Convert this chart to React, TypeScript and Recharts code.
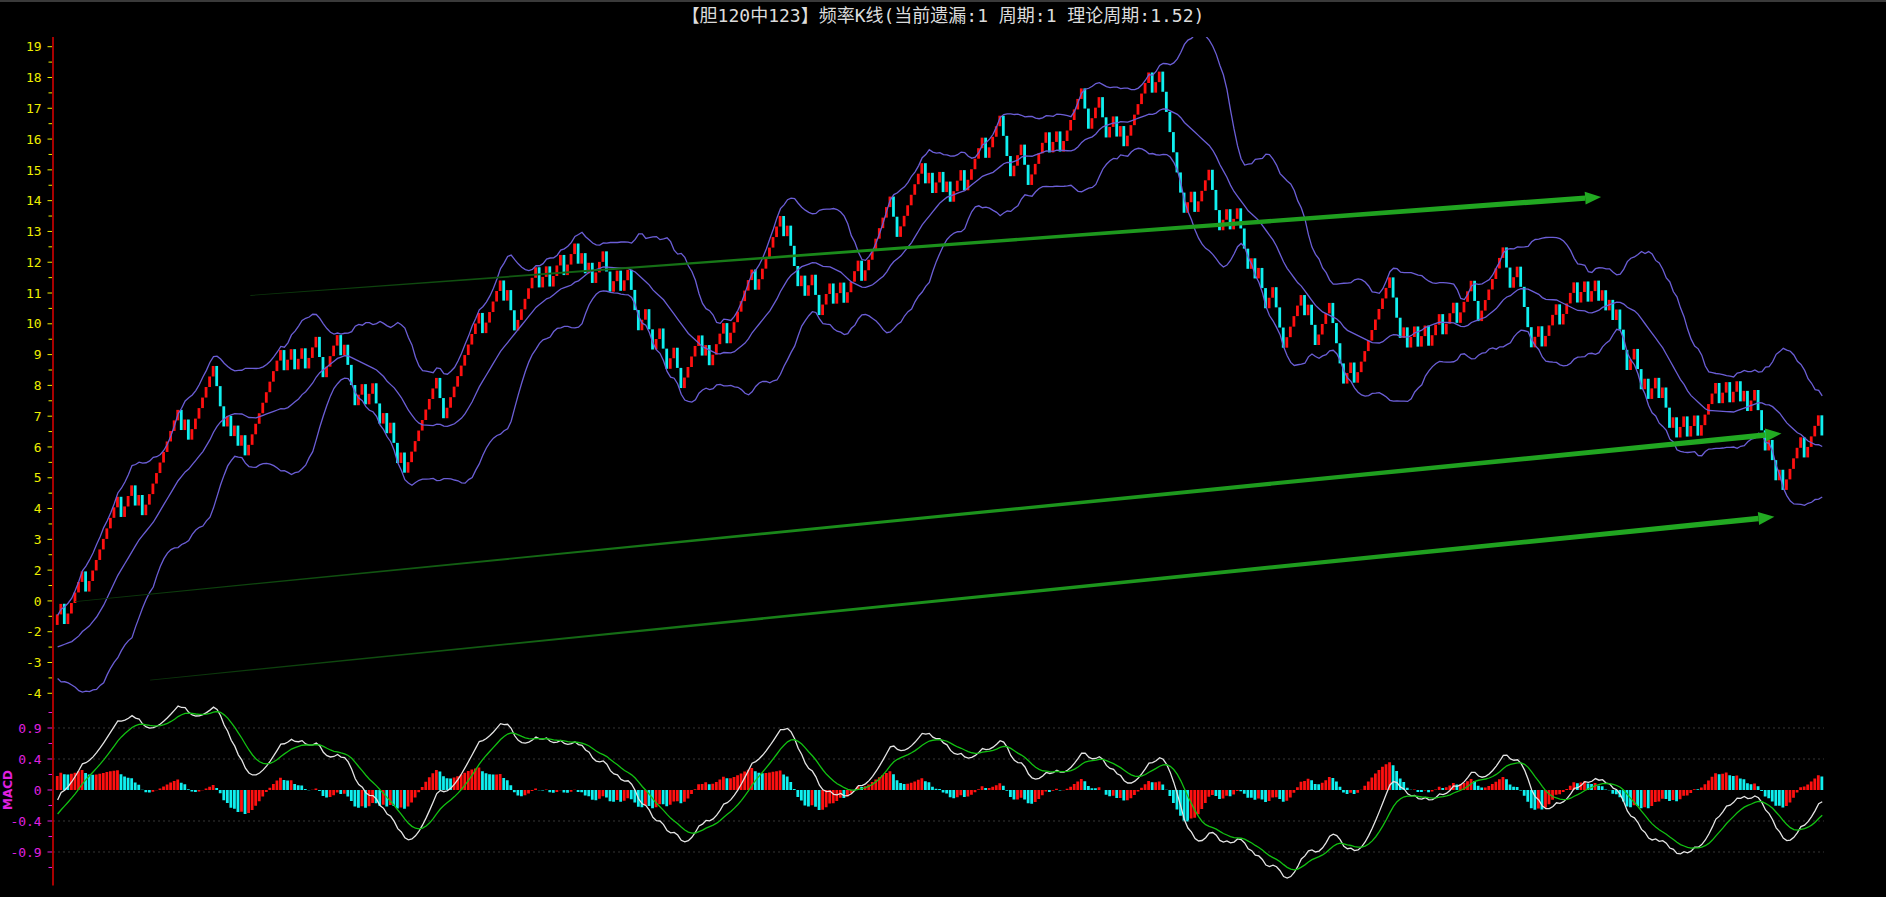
import React from 'react';
import { ComposedChart, Bar, Line, XAxis, YAxis, Cell, ReferenceLine } from 'recharts';

const WIDTH = 1886;
const HEIGHT = 897;
const MAIN_H = 700;
const MACD_H = HEIGHT - MAIN_H;
const AXIS_W = 53;
const RIGHT_GAP = 62;

const AXIS_RED = '#e00000';
const UP_RED = '#ff1010';
const DOWN_CYAN = '#10f0f0';
const BAND = '#6b5ed6';
const YELLOW = '#eeee00';
const MAGENTA = '#e020e0';
const ARROW_GREEN = '#22aa22';

const title = '【胆120中123】频率K线(当前遗漏:1 周期:1 理论周期:1.52)';

// one letter per draw, left to right: R = 中 (red candle, steps up), C = 遗漏 (cyan candle, steps down)
const drawsA = ['RRCRRRRRC', 'RRRRRRRRR', 'CRRRCRCR', 'RRRRRRRRR', 'CRC', 'RRRRRRR', 'CCCRCRCRCR', 'RRRRRRRRR', 'CRRCRRCRRRCCRRRRCRC'];
const drawsB = ['CCRRCRRCCRCRCCRCR', 'RRRRRRRR', 'CC', 'RRRRRRRRRR', 'C', 'RRRRR', 'CRCC', 'RRRRRR', 'CRRCRRRCRRRCRCRCRRRCCRRCRRCCCRRC'];
const drawsC = ['CRRCCRRCC', 'RRRRR', 'CRC', 'RRRR', 'C', 'RRRRRRR', 'C', 'RRRRRRR', 'CRCCCRCRRCC', 'RRR', 'C', 'RR', 'C', 'RRRR', 'C', 'RRRRRRRR', 'CC', 'RRRRRRR', 'CRCRR'];
const drawsD = ['CRCRRRC', 'RRRRR', 'C', 'RRRR', 'CCC', 'RRR', 'CC', 'RRRRR', 'C', 'RR', 'C', 'RRRRRR', 'CC', 'RRR', 'CC', 'RR', 'C', 'R', 'C', 'RRRRRRR', 'C', 'RR', 'CCCCCCC', 'RR', 'C', 'RRRR', 'CCC', 'RR', 'C', 'RR', 'CCC'];
const drawsE = ['RCRCCRRCCC', 'RRRRR', 'CRCC', 'RRRR', 'CCCC', 'RRCR', 'RRRRRRRRR', 'CCC', 'RC', 'RRC', 'RRC', 'RRR', 'C', 'RRR', 'C', 'RRRR', 'CC', 'RRRRRRR', 'CC', 'RR', 'CCCC', 'RR', 'C'];
const drawsF = ['RRRR', 'C', 'RRRR', 'C', 'RR', 'C', 'RR', 'C', 'R', 'C', 'R', 'C', 'R', 'CCC', 'RR', 'CC', 'R', 'C', 'RR', 'C', 'R', 'CC', 'RCRRCRRCRRRRRCRRCRRCR', 'CRRCCCRCCRC', 'RRRRRCRRRRC'];

// draws before the first visible candle: not drawn, only used so BOLL / MACD start where the picture starts (estimated)
const warmupDraws = ['RRCRRCRRCRRCRRCRRC', 'RCRRCRCRCRRCRCRCRRCRCRCRRCRCRRCRCRC', 'RRRRR'];

const HIT_STEP = 0.342;
const MISS_STEP = 0.655;
const FIRST_OPEN = 0.22;
const MACD_BAR_SCALE = 1;

// left axis labels, top to bottom, one per grid step
const mainTickLabels = ['19', '18', '17', '16', '15', '14', '13', '12', '11', '10', '9', '8', '7', '6', '5', '4', '3', '2', '0', '-2', '-3', '-4'];
const macdTickValues = [0.9, 0.45, 0, -0.45, -0.9];
const macdTickLabels = ['0.9', '0.4', '0', '-0.4', '-0.9'];

// trend arrows (draw index, value): start -> tip
const arrowFromX = [54.4, 4.9, 26.1];
const arrowFromY = [10.92, 0.98, -1.57];
const arrowToX = [435.6, 486.5, 484.5];
const arrowToY = [14.12, 6.44, 3.73];

const draws = [...drawsA, ...drawsB, ...drawsC, ...drawsD, ...drawsE, ...drawsF].join('');
const warm = warmupDraws.join('');
const stepOf = (d: string) => (d === 'R' ? HIT_STEP : -MISS_STEP);
const warmNet = [...warm].reduce((s, d) => s + stepOf(d), 0);

const allDraws = warm + draws;
const opens: number[] = [];
const closes: number[] = [];
let level = FIRST_OPEN - warmNet;
for (const d of allDraws) {
  opens.push(level);
  level += stepOf(d);
  closes.push(level);
}

// BOLL(20, 2)
const boll = closes.map((_, k) => {
  const win = closes.slice(Math.max(0, k - 19), k + 1);
  const mean = win.reduce((a, b) => a + b, 0) / win.length;
  const sd = win.length > 1 ? Math.sqrt(win.reduce((a, b) => a + (b - mean) ** 2, 0) / (win.length - 1)) : 0;
  return { up: mean + 2 * sd, mid: mean, lo: mean - 2 * sd };
});

// MACD(12, 26, 9)
const ema = (src: number[], n: number) => {
  const a = 2 / (n + 1);
  const out: number[] = [];
  src.forEach((v, k) => out.push(k === 0 ? v : out[k - 1] + a * (v - out[k - 1])));
  return out;
};
const e12 = ema(closes, 12);
const e26 = ema(closes, 26);
const dif = e12.map((v, k) => v - e26[k]);
const dea = ema(dif, 9);
const hist = dif.map((v, k) => MACD_BAR_SCALE * (v - dea[k]));

const data = [...draws].map((d, i) => {
  const k = warm.length + i;
  return {
    i,
    body: [Math.min(opens[k], closes[k]), Math.max(opens[k], closes[k])],
    hit: d === 'R',
    up: boll[k].up,
    mid: boll[k].mid,
    lo: boll[k].lo,
    dif: dif[k],
    dea: dea[k],
    hist: hist[k],
    histUp: hist[k] >= hist[k - 1],
  };
});

const N = data.length;
const xDomain: [number, number] = [-1.3, N - 0.5];

const mainMajor = mainTickLabels.map((_, idx) => 19 - idx);
const mainMinor = mainTickLabels.slice(1).map((_, idx) => 18.5 - idx);
const mainLabelMap = new Map(mainMajor.map((v, idx) => [v.toFixed(3), mainTickLabels[idx]]));
const macdMinor = [1.125, 0.675, 0.225, -0.225, -0.675, -1.125];
const macdLabelMap = new Map(macdTickValues.map((v, idx) => [v.toFixed(3), macdTickLabels[idx]]));

const makeTick = (labels: Map<string, string>, color: string) => (props: any) => {
  const { x, y, payload } = props;
  const label = labels.get(Number(payload.value).toFixed(3));
  const major = label !== undefined;
  return (
    <g>
      <line x1={x - (major ? 5.5 : 4.5)} x2={x - 1} y1={y} y2={y} stroke={color} strokeWidth={1} />
      {major && (
        <text x={x - 11.3} y={y} dy="0.36em" textAnchor="end" fill={color} fontSize={13} fontFamily="'DejaVu Sans Mono', monospace">
          {label}
        </text>
      )}
    </g>
  );
};

const arrowShape = (id: string) => (p: any) => {
  const { x1, y1, x2, y2 } = p;
  const len = Math.hypot(x2 - x1, y2 - y1) || 1;
  const ux = (x2 - x1) / len;
  const uy = (y2 - y1) / len;
  const nx = -uy;
  const ny = ux;
  const HEAD = 16;
  const HALF = 6.5;
  const w0 = 0.4;
  const w1 = 2.7;
  const bx = x2 - ux * HEAD;
  const by = y2 - uy * HEAD;
  const pts = (arr: number[][]) => arr.map((q) => q.join(',')).join(' ');
  return (
    <g>
      <defs>
        <linearGradient id={id} gradientUnits="userSpaceOnUse" x1={x1} y1={y1} x2={x2} y2={y2}>
          <stop offset="0" stopColor="#0a300a" />
          <stop offset="0.45" stopColor="#1b8f1b" />
          <stop offset="1" stopColor={ARROW_GREEN} />
        </linearGradient>
      </defs>
      <polygon
        points={pts([
          [x1 + nx * w0, y1 + ny * w0],
          [bx + nx * w1, by + ny * w1],
          [bx - nx * w1, by - ny * w1],
          [x1 - nx * w0, y1 - ny * w0],
        ])}
        fill={`url(#${id})`}
      />
      <polygon
        points={pts([
          [x2, y2],
          [bx + nx * HALF, by + ny * HALF],
          [bx - nx * HALF, by - ny * HALF],
        ])}
        fill={ARROW_GREEN}
      />
    </g>
  );
};

export default function App() {
  return (
    <div style={{ position: 'fixed', left: 0, top: 0, width: WIDTH, height: HEIGHT, background: '#000', overflow: 'hidden' }}>
      <div style={{ position: 'absolute', left: 0, top: 0, width: WIDTH, height: 2, background: '#3a3a3a' }} />
      <div
        style={{
          position: 'absolute',
          left: 0,
          top: 5,
          width: WIDTH,
          height: 22,
          lineHeight: '22px',
          textAlign: 'center',
          color: '#dcdcdc',
          fontSize: 18,
          fontFamily: "'DejaVu Sans Mono', 'Noto Sans CJK SC', monospace",
        }}
      >
        {title}
      </div>

      <div style={{ position: 'absolute', left: 0, top: 0 }}>
        <ComposedChart width={WIDTH} height={MAIN_H} data={data} margin={{ top: 37, right: RIGHT_GAP, bottom: 0, left: 0 }}>
          <XAxis type="number" dataKey="i" domain={xDomain} allowDataOverflow hide />
          <YAxis
            type="number"
            width={AXIS_W}
            domain={[-2.218, 19.315]}
            allowDataOverflow
            ticks={[...mainMajor, ...mainMinor]}
            interval={0}
            tickSize={0}
            tickMargin={0}
            tickLine={false}
            tick={makeTick(mainLabelMap, YELLOW)}
            axisLine={{ stroke: AXIS_RED, strokeWidth: 1.5 }}
          />
          <Bar dataKey="body" barSize={2.8} isAnimationActive={false}>
            {data.map((d) => (
              <Cell key={d.i} fill={d.hit ? UP_RED : DOWN_CYAN} />
            ))}
          </Bar>
          <Line dataKey="up" stroke={BAND} strokeWidth={1.3} dot={false} activeDot={false} isAnimationActive={false} />
          <Line dataKey="mid" stroke={BAND} strokeWidth={1.3} dot={false} activeDot={false} isAnimationActive={false} />
          <Line dataKey="lo" stroke={BAND} strokeWidth={1.3} dot={false} activeDot={false} isAnimationActive={false} />
          {arrowFromX.map((fx, a) => (
            <ReferenceLine
              key={a}
              segment={[
                { x: fx, y: arrowFromY[a] },
                { x: arrowToX[a], y: arrowToY[a] },
              ]}
              ifOverflow="visible"
              shape={arrowShape(`arrow-grad-${a}`)}
            />
          ))}
        </ComposedChart>
      </div>

      <div style={{ position: 'absolute', left: 0, top: MAIN_H }}>
        <ComposedChart width={WIDTH} height={MACD_H} data={data} margin={{ top: 0, right: RIGHT_GAP, bottom: 11.5, left: 0 }}>
          <XAxis
            type="number"
            dataKey="i"
            domain={xDomain}
            allowDataOverflow
            height={0}
            tick={false}
            tickLine={false}
            axisLine={{ stroke: AXIS_RED, strokeWidth: 2 }}
          />
          <YAxis
            type="number"
            width={AXIS_W}
            domain={[-1.3863, 1.3064]}
            allowDataOverflow
            ticks={[...macdTickValues, ...macdMinor]}
            interval={0}
            tickSize={0}
            tickMargin={0}
            tickLine={false}
            tick={makeTick(macdLabelMap, MAGENTA)}
            axisLine={{ stroke: AXIS_RED, strokeWidth: 1.5 }}
          />
          {[0.9, 0.45, -0.45, -0.9].map((v) => (
            <ReferenceLine key={v} y={v} stroke="#363636" strokeDasharray="2 3" />
          ))}
          <Bar dataKey="hist" barSize={2.8} isAnimationActive={false}>
            {data.map((d) => (
              <Cell key={d.i} fill={d.histUp ? UP_RED : DOWN_CYAN} />
            ))}
          </Bar>
          <Line dataKey="dif" stroke="#e4e4e4" strokeWidth={1.3} dot={false} activeDot={false} isAnimationActive={false} />
          <Line dataKey="dea" stroke="#12c012" strokeWidth={1.3} dot={false} activeDot={false} isAnimationActive={false} />
        </ComposedChart>
      </div>

      <svg style={{ position: 'absolute', left: 0, top: 0 }} width={24} height={HEIGHT}>
        <text
          transform="translate(8,790) rotate(-90)"
          textAnchor="middle"
          dominantBaseline="central"
          fill={MAGENTA}
          fontWeight="bold"
          fontSize={12}
          fontFamily="'DejaVu Sans', sans-serif"
        >
          MACD
        </text>
      </svg>
    </div>
  );
}
